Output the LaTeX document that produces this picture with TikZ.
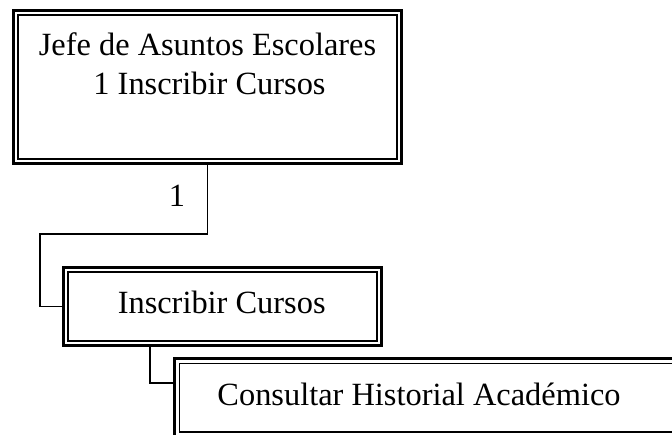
\documentclass[tikz,border=0pt]{standalone}
\usepackage{fontspec}
\setmainfont{Liberation Serif}
\begin{document}
\begin{tikzpicture}[x=1pt,y=-1pt,
  outerbox/.style={draw, line width=3pt, rectangle, outer sep=0pt, inner sep=0pt},
  innerline/.style={line width=1.8pt},
  conn/.style={line width=1.6pt},
  lbl/.style={inner sep=0pt, font=\fontsize{32.4}{39}\selectfont}]
\useasboundingbox (0,0) rectangle (672,434);
\clip (0,0) rectangle (672,434);

% thick outer frames of the three boxes
\node[outerbox, minimum width=388.3pt, minimum height=153.2pt] (b1) at (207.6,87.1) {};
\node[outerbox, minimum width=318.5pt, minimum height=78pt] (b2) at (222.5,306.3) {};
\node[outerbox, minimum width=520pt, minimum height=78.3pt] (b3) at (434.7,397.9) {};

% thin inner frames
\foreach \b in {b1,b2,b3}
  \draw[innerline] ([shift={(4.7,-4.7)}]\b.south west) rectangle ([shift={(-4.7,4.7)}]\b.north east);

% box texts
\node[lbl, anchor=base] (t1a) at (207.5,55.7) {Jefe de Asuntos Escolares};
\node[lbl, anchor=base] (t1b) at (209.5,94) {1 Inscribir Cursos};
\node[lbl, anchor=base] (t2) at (221.7,313.3) {Inscribir Cursos};
\node[lbl, anchor=base] (t3) at (419,405) {Consultar Historial Académico};

% connectors
\coordinate (k1) at (39.7,234);
\draw[conn] (b1.south) |- (k1) |- (b2.west);
\node[lbl] (n1) at (177,196) {1};

\coordinate (k2) at (150,382.7);
\draw[conn] (k2 |- b2.south) -- (k2) -- (k2 -| b3.west);
\end{tikzpicture}
\end{document}
